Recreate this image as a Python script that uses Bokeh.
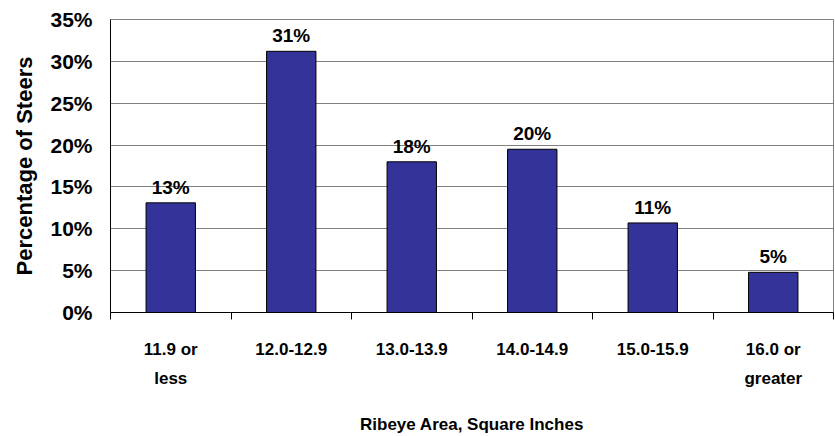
from bokeh.plotting import figure
from bokeh.models import (Range1d, LinearAxis, FixedTicker,
                          PrintfTickFormatter, ColumnDataSource, LabelSet)
from bokeh.core.properties import value
from bokeh.embed import file_html
from bokeh.resources import INLINE

categories = ["11.9 or\nless", "12.0-12.9", "13.0-13.9", "14.0-14.9", "15.0-15.9", "16.0 or\ngreater"]
values = [13.1, 31.2, 18.0, 19.5, 10.7, 4.8]
value_labels = ["13%", "31%", "18%", "20%", "11%", "5%"]
y_ticks = [0, 5, 10, 15, 20, 25, 30, 35]

FONT = "Liberation Sans"
BAR = "#333399"
GRID = "#808080"

n = len(categories)
centers = [i + 0.5 for i in range(n)]
boundaries = list(range(n + 1))

src = ColumnDataSource(dict(x=centers, val=values, lab=value_labels))

p = figure(width=835, height=436, x_range=Range1d(0, n),
           y_range=Range1d(0, 35), x_axis_location=None,
           output_backend="svg", toolbar_location=None,
           min_border_left=110, min_border_right=2, min_border_top=19, min_border_bottom=0)

p.vbar(x="x", top="val", width=0.41, source=src, fill_color=BAR, line_color="black", line_width=1)

labels = LabelSet(x="x", y="val", text="lab", source=src, text_align="center",
                  text_baseline="bottom", y_offset=5, text_font=value(FONT), text_font_style="bold",
                  text_font_size="19px", text_color="black")
p.add_layout(labels)

# y axis
ya = p.yaxis[0]
ya.ticker = FixedTicker(ticks=y_ticks)
ya.formatter = PrintfTickFormatter(format="%d%%")
ya.major_tick_out = 0
ya.major_tick_in = 0
ya.minor_tick_out = 0
ya.minor_tick_in = 0
ya.major_label_standoff = 18
ya.major_label_text_font = FONT
ya.major_label_text_font_style = "bold"
ya.major_label_text_font_size = "21px"
ya.major_label_text_color = "black"
ya.axis_line_color = "black"
ya.axis_label = "Percentage of Steers"
ya.axis_label_text_font = FONT
ya.axis_label_text_font_style = "bold"
ya.axis_label_text_font_size = "22px"
ya.axis_label_text_color = "black"
ya.axis_label_standoff = 10

p.ygrid.ticker = FixedTicker(ticks=y_ticks)
p.ygrid.grid_line_color = GRID
p.ygrid.grid_line_width = 1
p.xgrid.grid_line_color = None
p.outline_line_color = GRID

# tick-mark axis at category boundaries
ta = LinearAxis(ticker=FixedTicker(ticks=boundaries))
ta.major_tick_out = 7
ta.major_tick_in = 0
ta.minor_tick_out = 0
ta.minor_tick_in = 0
ta.major_label_standoff = 3
ta.major_label_text_font_size = "1px"
ta.major_label_text_alpha = 0
ta.axis_line_color = "black"
ta.major_tick_line_color = "black"
p.add_layout(ta, "below")

# category label axis
ca = LinearAxis(ticker=FixedTicker(ticks=centers))
ca.major_label_overrides = {c: lab for c, lab in zip(centers, categories)}
ca.axis_line_color = None
ca.major_tick_line_color = None
ca.minor_tick_line_color = None
ca.major_tick_out = 0
ca.major_tick_in = 0
ca.major_label_standoff = 20
ca.major_label_text_font = FONT
ca.major_label_text_font_style = "bold"
ca.major_label_text_font_size = "17px"
ca.major_label_text_color = "black"
ca.major_label_text_line_height = 1.55
ca.axis_label = "Ribeye Area, Square Inches"
ca.axis_label_text_font = FONT
ca.axis_label_text_font_style = "bold"
ca.axis_label_text_font_size = "17px"
ca.axis_label_text_color = "black"
ca.axis_label_standoff = 24
p.add_layout(ca, "below")

p.background_fill_color = "white"
p.border_fill_color = "white"

open("out.html", "w").write(file_html(p, INLINE))
